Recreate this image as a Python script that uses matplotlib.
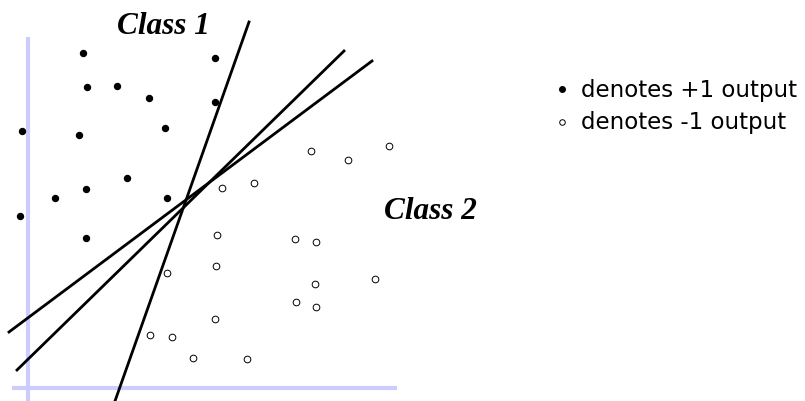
import matplotlib.pyplot as plt

# Class +1 points (pixel-like coordinates, y grows downward)
pos_x = [83, 215, 87, 117, 149, 215, 22, 79, 165, 127, 86, 55, 167, 20, 86]
pos_y = [54, 59, 88, 87, 99, 103, 132, 136, 129, 179, 190, 199, 199, 217, 239]

# Class -1 points
neg_x = [311, 348, 389, 222, 254, 217, 295, 316, 216, 167, 315, 375, 296, 316, 215, 150, 172, 193, 247]
neg_y = [152, 161, 147, 189, 184, 236, 240, 243, 267, 274, 285, 280, 303, 308, 320, 336, 338, 359, 360]

# candidate separating lines: (x0, y0, x1, y1)
lines = [
    (249, 23, 115, 402),
    (344, 52, 17, 371),
    (372, 62, 9, 333),
]

legend_labels = ['denotes +1 output', 'denotes -1 output']

fig = plt.figure(figsize=(8.05, 4.02), dpi=100)
ax = fig.add_axes([0, 0, 1, 1])
ax.set_xlim(0, 805)
ax.set_ylim(402, 0)
ax.axis('off')

# light axes
ax.plot([28, 28], [38, 402], color='#ccccff', lw=3, solid_capstyle='butt', zorder=1)
ax.plot([12, 397], [389, 389], color='#ccccff', lw=3, solid_capstyle='butt', zorder=1)

for x0, y0, x1, y1 in lines:
    ax.plot([x0, x1], [y0, y1], color='black', lw=2, zorder=2)

ax.plot(pos_x, pos_y, 'o', color='black', ms=4.3, zorder=3)
ax.plot(neg_x, neg_y, 'o', mfc='white', mec='black', mew=0.7, ms=4.8, zorder=3)

serif = dict(family='Liberation Serif', weight='bold', style='italic', fontsize=22.5)
ax.text(163, 26, 'Class 1', ha='center', va='center', **serif)
ax.text(430, 212, 'Class 2', ha='center', va='center', **serif)

# legend
ax.plot([562], [90], 'o', color='black', ms=4)
ax.plot([562], [123], 'o', mfc='white', mec='black', mew=0.7, ms=4)
ax.text(581, 90, legend_labels[0], ha='left', va='center', fontsize=16.5, family='DejaVu Sans')
ax.text(581, 123, legend_labels[1], ha='left', va='center', fontsize=16.5, family='DejaVu Sans')

fig.savefig('out.png', dpi=100)
